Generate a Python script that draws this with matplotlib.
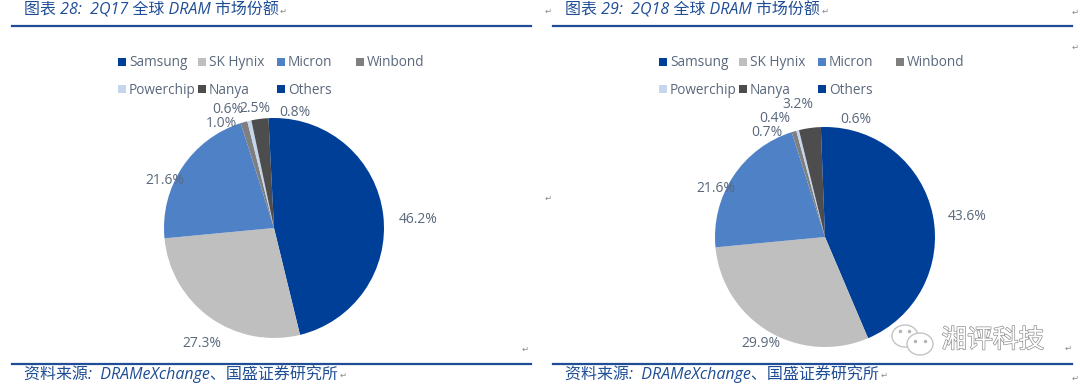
import matplotlib
matplotlib.use('Agg')
import matplotlib.pyplot as plt
from matplotlib.patches import Ellipse, Rectangle
import matplotlib.patheffects as pe

CJK = ['Open Sans', 'Noto Sans CJK SC', 'DejaVu Sans']

# ---- data
companies = ['Samsung', 'SK Hynix', 'Micron', 'Winbond', 'Powerchip', 'Nanya', 'Others']
share_2q17 = [46.2, 27.3, 21.6, 1.0, 0.6, 2.5, 0.8]
share_2q18 = [43.6, 29.9, 21.6, 0.7, 0.4, 3.2, 0.6]
title_2q17 = '图表 28:  2Q17 全球 DRAM 市场份额'
title_2q18 = '图表 29:  2Q18 全球 DRAM 市场份额'
source_text = '资料来源:  DRAMeXchange、国盛证券研究所'
watermark = '湘评科技'

colors = ['#003f98', '#bfbfbf', '#4f81c6', '#7f7f7f', '#c4d5ec', '#4d4d4d', '#003f98']
BLUE = '#1f4e96'
LABEL = '#5a687c'

W, H = 1080, 388
fig = plt.figure(figsize=(W / 100, H / 100), dpi=100, facecolor='white')

# overlay in pixel coordinates for the page furniture
page = fig.add_axes([0, 0, 1, 1], zorder=5)
page.set_xlim(0, W)
page.set_ylim(H, 0)
page.axis('off')


def draw_pie(values, cx, cy, r, label_xy):
    ax = fig.add_axes([(cx - r) / W, 1 - (cy + r) / H, 2 * r / W, 2 * r / H])
    ax.pie(values, colors=colors, startangle=90, counterclock=False, radius=1)
    ax.set_xlim(-1, 1)
    ax.set_ylim(-1, 1)
    # labels sit where the original put them, not on a fixed radius
    for v, (x, y) in zip(values, label_xy):
        page.text(x, y + 1.5, f'{v:.1f}%', ha='center', va='center', fontsize=10,
                  color=LABEL, family='Open Sans')


def draw_legend(swatch_x, rows_y):
    slots = [(0, 0), (1, 0), (2, 0), (3, 0), (0, 1), (1, 1), (2, 1)]
    for name, col, (c, row) in zip(companies, colors, slots):
        x, y = swatch_x[c], rows_y[row]
        page.add_patch(Rectangle((x, y - 4), 7.5, 7.5, fc=col, ec='none'))
        page.text(x + 11, y + 1, name, ha='left', va='center', fontsize=9.8,
                  color=LABEL, family='Open Sans')


def draw_frame(x0, x1, title, tx, sx):
    page.plot([x0, x1], [26, 26], color=BLUE, lw=1.6)
    page.plot([x0, x1], [364, 364], color=BLUE, lw=1.6)
    page.text(tx, 10, title, fontsize=11.5, style='italic', color=BLUE,
              family=CJK, ha='left', va='center')
    page.text(sx, 374, source_text, fontsize=11.5, style='italic', color=BLUE,
              family=CJK, ha='left', va='center')


draw_pie(share_2q17, 274, 228, 110,
         [(418, 218), (202, 342), (165, 179), (221, 122), (228, 108), (255, 107), (295, 111)])
draw_pie(share_2q18, 825, 237, 110,
         [(967, 215), (761, 342), (716, 187), (767, 131), (775, 117), (798, 103), (856, 118)])

draw_legend([118, 198, 277, 356], [62, 89])
draw_legend([659, 739, 818, 896], [62, 89])

draw_frame(12, 531, title_2q17, 24, 24)
draw_frame(553, 1072, title_2q18, 565, 565)

# paragraph marks left over from the source document
for x, y in [(283, 11), (548, 11), (825, 11), (1075, 12), (1075, 47), (548, 198),
             (525, 349), (1068, 348), (343, 375), (884, 375), (1075, 378)]:
    page.text(x, y, '↵', fontsize=6, color='#8a8a8a', family='DejaVu Sans',
              ha='center', va='center')

# watermark
for xy, w, h in [((905, 336), 26, 22), ((920, 344), 26, 22)]:
    page.add_patch(Ellipse(xy, w, h, fc='white', ec='#c4c4c4', lw=1.0))
page.plot([900, 909, 915, 925], [331, 331, 341, 341], ls='none', marker='o', ms=1.5,
          color='#b5b5b5')
page.text(993, 341, watermark, fontsize=18.5, color='white', family=CJK,
          ha='center', va='center',
          path_effects=[pe.withStroke(linewidth=1.0, foreground='#8f8f8f')])

fig.savefig('out.png', dpi=100)
